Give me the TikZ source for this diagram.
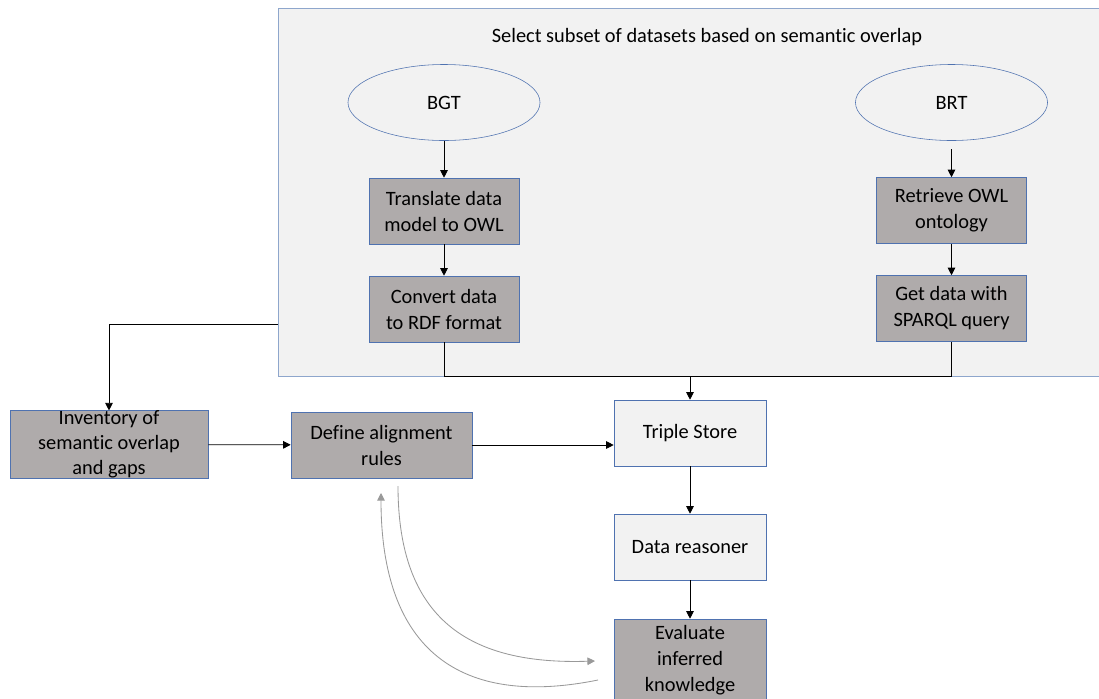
\documentclass[tikz,border=0pt]{standalone}
\usepackage{fontspec}
\setmainfont{Carlito}[Ligatures={NoCommon}, Contextuals={NoAlternate}, RawFeature={-dlig;-ccmp}]
\usetikzlibrary{arrows.meta,shapes.geometric}

\definecolor{panelfill}{HTML}{F2F2F2}
\definecolor{panelline}{HTML}{8EA6CC}
\definecolor{boxfill}{HTML}{AFABAB}
\definecolor{boxline}{HTML}{4F72B0}
\definecolor{loopgray}{HTML}{999999}

\begin{document}
\begin{tikzpicture}[x=0.025cm, y=-0.025cm,
    every node/.style={font=\fontsize{14.5}{18.5}\selectfont, align=center, inner sep=0pt},
    darkbox/.style={draw=boxline, fill=boxfill, minimum width=3.75cm, minimum height=1.65cm},
    lightbox/.style={draw=boxline, fill=panelfill, minimum width=3.8cm, minimum height=1.65cm},
    source/.style={ellipse, draw=boxline, fill=panelfill, minimum width=4.8cm, minimum height=1.9cm},
    flow/.style={-{Triangle[length=1.9mm,width=1.9mm]}, black, semithick},
    feedback/.style={-{Triangle[length=1.9mm,width=1.9mm]}, loopgray, semithick}]
    \useasboundingbox (0,0) rectangle (1099,698);
    \fill[white] (0,0) rectangle (1099,698);

    % selection panel
    \draw[panelline, semithick, fill=panelfill] (278,8) rectangle (1115,376);
    \node (title) at (707,37) {Select subset of datasets based on semantic overlap};

    \node[source] (bgt) at (444,102.5) {BGT};
    \node[source] (brt) at (951.5,102.5) {BRT};
    \node[darkbox] (translate) at (444,211) {Translate data\\model to OWL};
    \node[darkbox] (convert) at (444,309) {Convert data\\to RDF format};
    \node[darkbox] (retrieve) at (951.5,210.5) {Retrieve OWL\\ontology};
    \node[darkbox] (getdata) at (951.5,308.5) {Get data with\\SPARQL query};

    % alignment and reasoning
    \node[darkbox, minimum width=4.95cm, minimum height=1.675cm,
          font=\fontsize{14.5}{17.8}\selectfont] (inventory) at (109,444.5)
          {Inventory of\\semantic overlap\\and gaps};
    \node[darkbox, minimum width=4.525cm] (define) at (381.5,445) {Define alignment\\rules};
    \node[lightbox] (triple) at (690,433) {Triple Store};
    \node[lightbox] (reasoner) at (690,547) {Data reasoner};
    \node[darkbox, minimum width=3.8cm, minimum height=2.075cm] (evaluate) at (690,660.5)
          {Evaluate\\inferred\\knowledge};

    \coordinate (merge) at (690,376);
    \coordinate (panelout) at (278,324);
    \coordinate (loopA) at (398,486);
    \coordinate (loopB) at (595,661);
    \coordinate (loopC) at (598,680);
    \coordinate (loopD) at (381,493);

    \draw[flow] (bgt) -- (translate);
    \draw[flow] (translate) -- (convert);
    \draw[flow, shorten <=6pt] (brt) -- (retrieve);
    \draw[flow] (retrieve) -- (getdata);
    \draw[semithick] (convert) |- (merge);
    \draw[semithick] (getdata) |- (merge);
    \draw[flow] (merge) -- (triple);
    \draw[flow] (panelout) -| (inventory);
    \draw[flow] (inventory) -- (define);
    \draw[flow] (define.east) -- (triple.west |- define.east);
    \draw[flow] (triple) -- (reasoner);
    \draw[flow] (reasoner) -- (evaluate);

    % feedback loop
    \draw[feedback] (loopA) .. controls (398,620) and (470,665) .. (loopB);
    \draw[feedback] (loopC) .. controls (460,708) and (381,650) .. (loopD);
\end{tikzpicture}
\end{document}
